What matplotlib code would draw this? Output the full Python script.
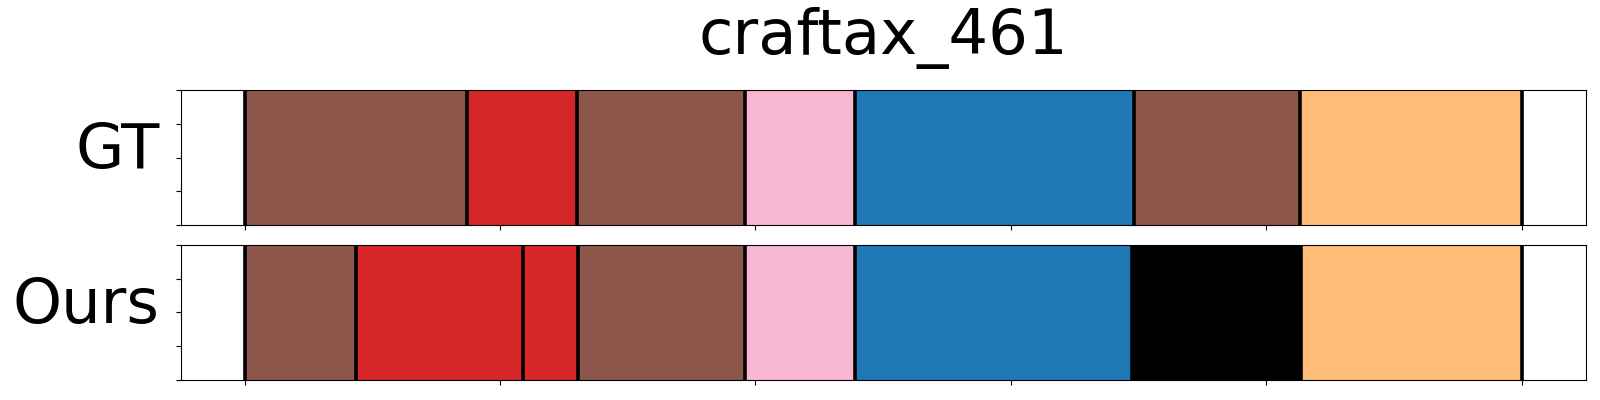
import matplotlib
matplotlib.use("Agg")
import matplotlib.pyplot as plt

title = "craftax_461"
row_labels = ["GT", "Ours"]

# segment boundaries (frame index) and colours for each row
gt_bounds = [0, 87, 130, 196, 239, 348, 413, 500]
gt_colors = ["#8c564b", "#d62728", "#8c564b", "#f7b6d2", "#1f77b4", "#8c564b", "#ffbb78"]

ours_bounds = [0, 43.5, 109, 130.5, 196, 239, 347.5, 413.5, 500]
ours_colors = ["#8c564b", "#d62728", "#d62728", "#8c564b", "#f7b6d2", "#1f77b4", "#000000", "#ffbb78"]

n_frames = 500
pad = 0.05 * n_frames
xticks = [0, 100, 200, 300, 400, 500]


def draw_row(ax, bounds, colors, label):
    for start, end, c in zip(bounds[:-1], bounds[1:], colors):
        ax.axvspan(start, end, color=c)
    for b in bounds:
        ax.axvline(b, color="black", linewidth=2.6)
    ax.set_xlim(-pad, n_frames + pad)
    ax.set_ylim(0, 1)
    ax.set_xticks(xticks)
    ax.set_xticklabels([])
    ax.set_yticks([0, 0.25, 0.5, 0.75, 1.0])
    ax.set_yticklabels([])
    ax.set_ylabel(label, rotation=0, fontsize=45, ha="right", va="center")
    ax.yaxis.set_label_coords(-0.015, 0.548)


fig, axes = plt.subplots(2, 1, figsize=(16, 4), dpi=100)
fig.subplots_adjust(left=0.113, right=0.991, top=0.775, bottom=0.05, hspace=0.148)

draw_row(axes[0], gt_bounds, gt_colors, row_labels[0])
draw_row(axes[1], ours_bounds, ours_colors, row_labels[1])
axes[0].set_title(title, fontsize=45, pad=26)

fig.savefig("out.png", dpi=100)
